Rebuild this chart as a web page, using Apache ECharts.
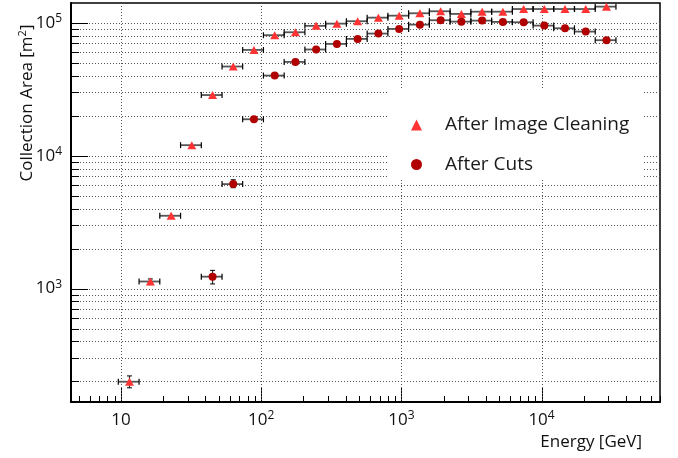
<!DOCTYPE html>
<html>
<head>
<meta charset="utf-8">
<script src="https://cdn.jsdelivr.net/npm/echarts@6/dist/echarts.min.js"></script>
<style>
html,body{margin:0;padding:0;background:#fff;}
#chart{width:678px;height:458px;}
</style>
</head>
<body>
<div id="chart"></div>
<script>
// ---- data ----
const energyLow  = [9.57, 13.46, 18.92, 26.61, 37.41, 52.6, 73.8, 103.8, 145.9, 205.1, 288.4, 405.5, 570.2, 801.7, 1127, 1585, 2228, 3133, 4406, 6194, 8710, 12218, 17180, 24155];
const energy     = [11.5, 16.2, 22.8, 32.0, 45.0, 63.2, 88.8, 124.9, 175.5, 246.8, 347.0, 487.9, 686.0, 964.4, 1356, 1907, 2681, 3770, 5300, 7452, 10464, 14699, 20668, 29059];
const energyHigh = [13.46, 18.92, 26.61, 37.41, 52.6, 73.8, 103.8, 145.9, 205.1, 288.4, 405.5, 570.2, 801.7, 1127, 1585, 2228, 3133, 4406, 6194, 8710, 12218, 17180, 24155, 33963];

const areaCleaning = [199, 1130, 3530, 12000, 28600, 46900, 62500, 80700, 84900, 94900, 98600, 102800, 109400, 113200, 118000, 122200, 116700, 121300, 121300, 127000, 127000, 127000, 127000, 132400];
const cleaningErrDown = [20, 60, 0, 0, 0, 0, 0, 0, 0, 0, 0, 0, 0, 0, 0, 0, 0, 0, 0, 0, 0, 0, 0, 0];
const cleaningErrUp   = [21, 51, 0, 0, 0, 0, 0, 0, 0, 0, 0, 0, 0, 0, 0, 0, 0, 0, 0, 0, 0, 0, 0, 0];

const areaCuts = [null, null, null, null, 1229, 6110, 18800, 40100, 50800, 63000, 69400, 75700, 83000, 90000, 96900, 104600, 102100, 103900, 101600, 101000, 95300, 91000, 85900, 74000];
const cutsErrDown = [0, 0, 0, 0, 146, 370, 0, 0, 0, 0, 0, 0, 0, 0, 0, 0, 0, 0, 0, 0, 0, 0, 0, 0];
const cutsErrUp   = [0, 0, 0, 0, 141, 480, 0, 0, 0, 0, 0, 0, 0, 0, 0, 0, 0, 0, 0, 0, 0, 0, 0, 0];

const seriesNames = ['After Image Cleaning', 'After Cuts'];
const xRange = [4.4, 70000];
const yRange = [140, 141000];
const decades = [1, 10, 100, 1000, 10000, 100000];
const mantissas = [1, 2, 3, 4, 5, 6, 7, 8, 9];

// ---- helpers ----
const FONT = '"Open Sans", "Noto Sans", sans-serif';
function ticksIn(range) {
  const out = [];
  decades.forEach(d => mantissas.forEach(m => {
    const v = m * d;
    if (v >= range[0] && v <= range[1]) out.push(v);
  }));
  return out;
}
function isDecade(v) {
  const l = Math.log10(v);
  return Math.abs(l - Math.round(l)) < 1e-9;
}
function powLabel(v) {
  const p = Math.round(Math.log10(v));
  if (p === 1) return '{b|10}';
  return '{b|10}{s|' + p + '}';
}
const labelRich = {
  b: {fontFamily: FONT, fontSize: 17, lineHeight: 20, color: '#111'},
  s: {fontFamily: FONT, fontSize: 12, lineHeight: 12, verticalAlign: 'top', color: '#111'}
};

const yTickData = ticksIn(yRange).map(v => [100, v]);
const xTickData = ticksIn(xRange).map(v => [v, 1000]);

function buildErr(areas, down, up) {
  const out = [];
  areas.forEach((a, i) => {
    if (a == null) return;
    out.push([energy[i], a, energyLow[i], energyHigh[i], a - down[i], a + up[i]]);
  });
  return out;
}
function buildPts(areas) {
  const out = [];
  areas.forEach((a, i) => { if (a != null) out.push([energy[i], a]); });
  return out;
}

function renderYGrid(params, api) {
  const cs = params.coordSys;
  const v = api.value(1);
  const y = Math.round(api.coord([api.value(0), v])[1]) + 0.5;
  const len = isDecade(v) ? 17 : 8;
  return {type: 'group', children: [
    {type: 'line', shape: {x1: cs.x, y1: y, x2: cs.x + cs.width, y2: y},
     style: {stroke: '#555', lineWidth: 1, lineDash: [1, 2]}},
    {type: 'line', shape: {x1: cs.x, y1: y, x2: cs.x + len, y2: y},
     style: {stroke: '#000', lineWidth: 1}}
  ]};
}
function renderXGrid(params, api) {
  const cs = params.coordSys;
  const v = api.value(0);
  const x = Math.round(api.coord([v, api.value(1)])[0]) + 0.5;
  const major = isDecade(v);
  const bottom = cs.y + cs.height;
  const children = [
    {type: 'line', shape: {x1: x, y1: bottom, x2: x, y2: bottom - (major ? 14 : 6)},
     style: {stroke: '#000', lineWidth: 1}}
  ];
  if (major) {
    children.push({type: 'line', shape: {x1: x, y1: cs.y, x2: x, y2: bottom},
      style: {stroke: '#555', lineWidth: 1, lineDash: [1, 2]}});
  }
  return {type: 'group', children: children};
}
function renderErr(params, api) {
  const e = api.value(0), a = api.value(1);
  const elo = api.value(2), ehi = api.value(3), alo = api.value(4), ahi = api.value(5);
  const p = api.coord([e, a]);
  const l = api.coord([elo, a]);
  const h = api.coord([ehi, a]);
  const y = p[1];
  const children = [
    {type: 'line', shape: {x1: l[0], y1: y, x2: h[0], y2: y}, style: {stroke: '#555', lineWidth: 1.8}},
    {type: 'line', shape: {x1: l[0], y1: y - 3, x2: l[0], y2: y + 3}, style: {stroke: '#000', lineWidth: 1.2}},
    {type: 'line', shape: {x1: h[0], y1: y - 3, x2: h[0], y2: y + 3}, style: {stroke: '#000', lineWidth: 1.2}}
  ];
  if (ahi > alo) {
    const b = api.coord([e, alo]);
    const t = api.coord([e, ahi]);
    children.push(
      {type: 'line', shape: {x1: p[0], y1: b[1], x2: p[0], y2: t[1]}, style: {stroke: '#333', lineWidth: 1.2}},
      {type: 'line', shape: {x1: p[0] - 2.5, y1: b[1], x2: p[0] + 2.5, y2: b[1]}, style: {stroke: '#000', lineWidth: 1}},
      {type: 'line', shape: {x1: p[0] - 2.5, y1: t[1], x2: p[0] + 2.5, y2: t[1]}, style: {stroke: '#000', lineWidth: 1}}
    );
  }
  return {type: 'group', children: children};
}

const chart = echarts.init(document.getElementById('chart'), null, {renderer: 'canvas'});
chart.setOption({
  animation: false,
  backgroundColor: '#fff',
  grid: {left: 71, right: 18, top: 3, bottom: 56, show: true, borderColor: '#000', borderWidth: 1.5,
         containLabel: false, outerBoundsMode: 'none'},
  xAxis: {
    type: 'log', logBase: 10, min: xRange[0], max: xRange[1],
    axisLine: {show: true, lineStyle: {color: '#000', width: 2}},
    axisTick: {show: false}, splitLine: {show: false},
    axisLabel: {formatter: powLabel, rich: labelRich, margin: 8, showMinLabel: false, showMaxLabel: false}
  },
  yAxis: {
    type: 'log', logBase: 10, min: yRange[0], max: yRange[1],
    axisLine: {show: true, lineStyle: {color: '#000', width: 2}},
    axisTick: {show: false}, splitLine: {show: false},
    axisLabel: {formatter: powLabel, rich: labelRich, margin: 9, showMinLabel: false, showMaxLabel: false}
  },
  legend: {
    orient: 'vertical', left: 387, top: 89,
    backgroundColor: '#fff', borderWidth: 0,
    padding: [25, 14, 4, 24],
    itemWidth: 11, itemHeight: 11, itemGap: 17.5,
    selectedMode: false,
    data: [{name: seriesNames[0], icon: 'triangle'}, {name: seriesNames[1], icon: 'circle'}],
    textStyle: {fontFamily: FONT, fontSize: 19, color: '#1a1a1a', lineHeight: 22, padding: [0, 0, 0, 18]}
  },
  graphic: [
    {type: 'text', x: 642, y: 442, style: {text: 'Energy [GeV]', fill: '#111', font: '17px ' + FONT, align: 'right', verticalAlign: 'middle'}},
    {type: 'text', x: 27, y: 103, rotation: Math.PI / 2,
     style: {text: '{a|Collection Area [m}{s|2}{a|]}', align: 'center', verticalAlign: 'middle', fill: '#111',
             rich: {a: {fontFamily: FONT, fontSize: 17, lineHeight: 20, color: '#111'},
                    s: {fontFamily: FONT, fontSize: 11, lineHeight: 11, verticalAlign: 'top', color: '#111'}}}}
  ],
  series: [
    {type: 'custom', name: 'ygrid', silent: true, z: 1, data: yTickData, renderItem: renderYGrid, encode: {x: 0, y: 1}},
    {type: 'custom', name: 'xgrid', silent: true, z: 1, data: xTickData, renderItem: renderXGrid, encode: {x: 0, y: 1}},
    {type: 'custom', name: 'errCleaning', silent: true, z: 2, data: buildErr(areaCleaning, cleaningErrDown, cleaningErrUp), renderItem: renderErr, encode: {x: 0, y: 1}},
    {type: 'custom', name: 'errCuts', silent: true, z: 2, data: buildErr(areaCuts, cutsErrDown, cutsErrUp), renderItem: renderErr, encode: {x: 0, y: 1}},
    {type: 'scatter', name: seriesNames[0], z: 3, symbol: 'triangle', symbolSize: [9, 8],
     itemStyle: {color: '#ff3333', opacity: 1}, data: buildPts(areaCleaning)},
    {type: 'scatter', name: seriesNames[1], z: 3, symbol: 'circle', symbolSize: 8,
     itemStyle: {color: '#b00000', opacity: 1}, data: buildPts(areaCuts)}
  ]
});
</script>
</body>
</html>
